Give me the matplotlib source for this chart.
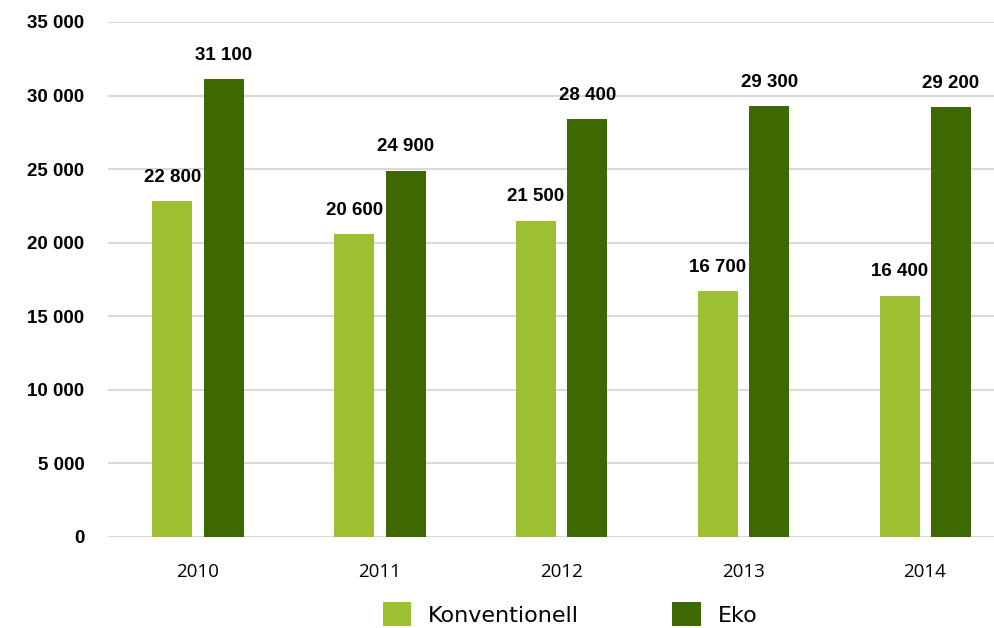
import numpy as np
import matplotlib.pyplot as plt
from matplotlib.ticker import FuncFormatter

# data
years = ["2010", "2011", "2012", "2013", "2014"]
konventionell = [22800, 20600, 21500, 16700, 16400]
eko = [31100, 24900, 28400, 29300, 29200]
series_names = ["Konventionell", "Eko"]

c_light = "#9cc031"
c_dark = "#3e6802"

plt.rcParams['font.family'] = ['Liberation Sans', 'DejaVu Sans']

fig = plt.figure(figsize=(9.95, 6.28), dpi=100)
ax = fig.add_axes([0.1085, 0.145, 0.8915, 0.82])

x = np.arange(len(years))
w = 0.22
b1 = ax.bar(x - 0.14, konventionell, w, color=c_light, label=series_names[0], zorder=3)
b2 = ax.bar(x + 0.143, eko, w, color=c_dark, label=series_names[1], zorder=3)

fmt = lambda v: f"{int(v):,}".replace(",", " ")
for bars, vals in [(b1, konventionell), (b2, eko)]:
    for r, v in zip(bars, vals):
        ax.annotate(fmt(v), (r.get_x() + r.get_width() / 2, v), xytext=(0, 11),
                    textcoords="offset points", ha="center", va="bottom",
                    fontsize=13.5, fontweight="bold", color="#000000")

ax.set_ylim(0, 35000)
ax.set_xlim(-0.495, 4.385)
ax.set_yticks(np.arange(0, 35001, 5000))
ax.yaxis.set_major_formatter(FuncFormatter(lambda v, p: fmt(v)))
ax.set_xticks(x)
ax.set_xticklabels(years, fontsize=13.5, family=['Open Sans', 'DejaVu Sans'])
for t in ax.get_yticklabels():
    t.set_fontsize(13.5)
    t.set_fontweight("bold")
ax.tick_params(axis="both", length=0)
ax.tick_params(axis="y", pad=17)
ax.tick_params(axis="x", pad=19)
ax.grid(axis="y", color="#d9d9d9", linewidth=1.5, zorder=0)
for s in ax.spines.values():
    s.set_visible(False)

fig.legend(handles=[b1, b2], labels=series_names, loc="center",
           bbox_to_anchor=(0.573, 0.022), ncol=2, frameon=False,
           prop={'family': ['DejaVu Sans'], 'size': 16},
           handlelength=1.27, handleheight=1.27, columnspacing=4.2,
           handletextpad=0.77, borderpad=0)

fig.savefig("out.png", dpi=100)
